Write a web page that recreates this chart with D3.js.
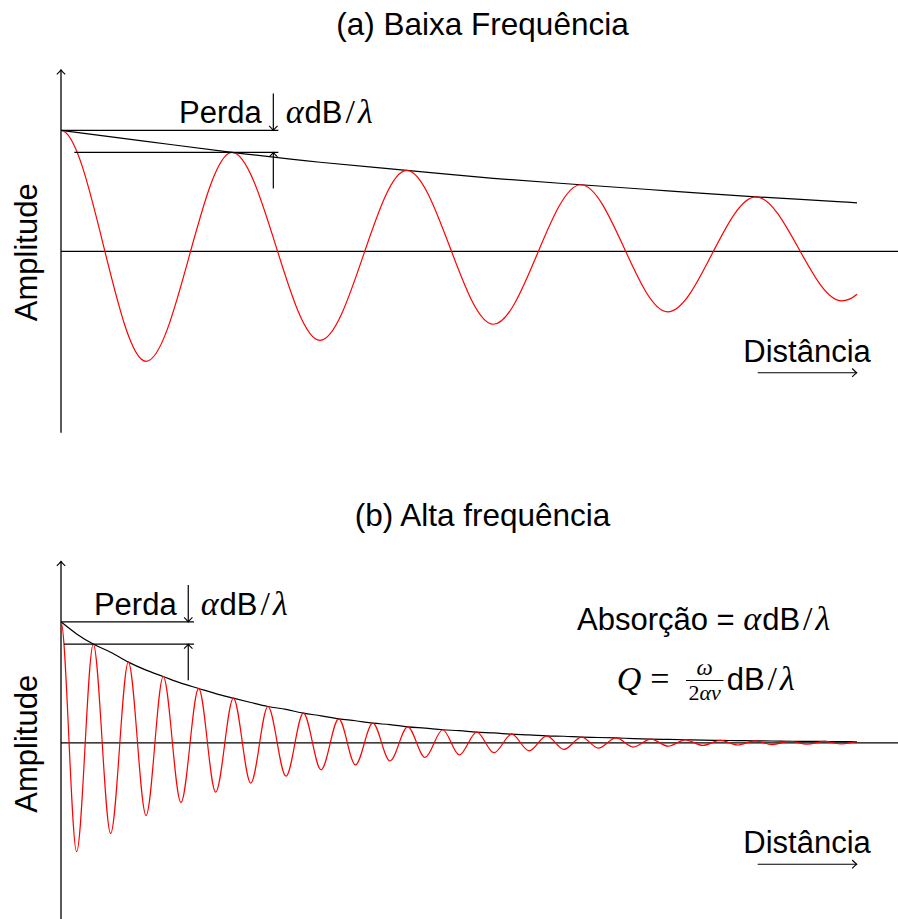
<!DOCTYPE html>
<html>
<head>
<meta charset="utf-8">
<script src="https://cdn.jsdelivr.net/npm/d3@7"></script>
<style>
  body { margin: 0; background: #fff; }
  svg { display: block; }
  text { font-family: "Liberation Sans", Arial, Helvetica, sans-serif; fill: #000; }
  .m  { font-family: "Liberation Serif", "Times New Roman", serif; font-style: normal; }
  .mi { font-family: "Liberation Serif", "Times New Roman", serif; font-style: italic; }
</style>
</head>
<body>
<svg id="chart"></svg>
<script>
// ---- data -------------------------------------------------------------
// Distance is measured in wavelengths of the low-frequency wave; amplitude
// is relative to the starting amplitude. Each list holds the successive
// crests/troughs of the wave, followed by the value where the trace stops.
const distanceMax = 4.585;

const lowDistance  = [0, 0.490, 0.985, 1.492, 1.991, 2.490, 2.994, 3.495, 4.003, 4.497, 4.585];
const lowAmplitude = [1.000, -0.909, 0.818, -0.736, 0.669, -0.603, 0.550, -0.500, 0.450, -0.409, -0.355];
const lowEnvelope  = [1.000, 0.909, 0.818, 0.736, 0.669, 0.603, 0.550, 0.500, 0.450, 0.409, 0.401];

const highDistance = [
  0, 0.090, 0.186, 0.286, 0.388, 0.490, 0.589, 0.691, 0.793, 0.891,
  0.993, 1.093, 1.192, 1.296, 1.396, 1.498, 1.600, 1.696, 1.796, 1.895,
  1.997, 2.097, 2.199, 2.294, 2.395, 2.494, 2.596, 2.696, 2.798, 2.897,
  2.999, 3.095, 3.197, 3.297, 3.397, 3.497, 3.597, 3.697, 3.797, 3.897,
  3.997, 4.097, 4.197, 4.297, 4.397, 4.497, 4.585
];
const highAmplitude = [
  1.000, -0.900, 0.816, -0.749, 0.667, -0.601, 0.548, -0.493, 0.449, -0.407,
  0.369, -0.333, 0.300, -0.276, 0.245, -0.223, 0.198, -0.182, 0.162, -0.150,
  0.132, -0.121, 0.108, -0.100, 0.088, -0.082, 0.071, -0.066, 0.058, -0.054,
  0.047, -0.044, 0.040, -0.035, 0.031, -0.028, 0.025, -0.022, 0.020, -0.018,
  0.016, -0.015, 0.013, -0.012, 0.011, -0.010, 0.009
];
const highEnvelope = [
  1.000, 0.900, 0.816, 0.749, 0.667, 0.601, 0.548, 0.493, 0.449, 0.407,
  0.369, 0.333, 0.300, 0.276, 0.245, 0.223, 0.198, 0.182, 0.162, 0.150,
  0.132, 0.121, 0.108, 0.100, 0.088, 0.082, 0.071, 0.066, 0.058, 0.054,
  0.047, 0.044, 0.040, 0.035, 0.031, 0.028, 0.025, 0.022, 0.020, 0.018,
  0.016, 0.015, 0.013, 0.012, 0.011, 0.010, 0.009
];

const titles = ["(a) Baixa Frequência", "(b) Alta frequência"];
const yLabel = "Amplitude";
const xLabel = "Distância";
const lossLabel = "Perda";

// ---- layout -----------------------------------------------------------
const W = 898, H = 919;
const svg = d3.select("#chart").attr("width", W).attr("height", H);

const x = d3.scaleLinear().domain([0, distanceMax]).range([61, 857]);

// Cubic segments with flat tangents at every crest and trough; the last
// segment leaves its end point with `endRatio` times the chord slope.
function crestCurve(endRatio) {
  return function (context) {
    let pts;
    return {
      areaStart() {}, areaEnd() {},
      lineStart() { pts = []; },
      point(px, py) { pts.push([+px, +py]); },
      lineEnd() {
        if (!pts.length) return;
        context.moveTo(pts[0][0], pts[0][1]);
        for (let i = 1; i < pts.length; i++) {
          const [x0, y0] = pts[i - 1], [x1, y1] = pts[i];
          const h = (x1 - x0) / 3;
          const m = i === pts.length - 1 ? endRatio * (y1 - y0) / (x1 - x0) : 0;
          context.bezierCurveTo(x0 + h, y0, x1 - h, y1 - m * h, x1, y1);
        }
      }
    };
  };
}

// small open arrow tip, pointing along +x before rotation
function arrowTip(g, px, py, angle) {
  g.append("path")
    .attr("d", "M-4.5,-4.2 Q-1.6,-1.2 0,0 Q-1.6,1.2 -4.5,4.2")
    .attr("transform", `translate(${px},${py}) rotate(${angle})`)
    .attr("fill", "none").attr("stroke", "#000").attr("stroke-width", 1.1);
}

// α dB / λ
function mathUnit(t, withAlpha = true) {
  if (withAlpha) t.append("tspan").attr("class", "mi").attr("font-size", 34).text("α");
  t.append("tspan").attr("dx", withAlpha ? 1 : 0).text("dB");
  t.append("tspan").attr("class", "m").attr("font-size", 34).attr("dx", 3).text("/");
  t.append("tspan").attr("class", "mi").attr("font-size", 34).attr("dx", 3).text("λ");
}

function drawPanel(cfg) {
  const g = svg.append("g");
  const zero = cfg.zero;
  const y = d3.scaleLinear().domain([-1.5, 1.5]).range([zero + 181.5, zero - 181.5]);

  // title
  g.append("text").attr("x", 482.5).attr("y", zero - 216.8)
    .attr("text-anchor", "middle").attr("font-size", 31.5).text(cfg.title);

  // vertical axis with arrow
  g.append("line").attr("x1", x(0)).attr("x2", x(0))
    .attr("y1", y(-1.5)).attr("y2", y(1.5))
    .attr("stroke", "#000").attr("stroke-width", 1.3);
  arrowTip(g, x(0), y(1.5), -90);

  // zero line
  g.append("line").attr("x1", x(0)).attr("x2", W)
    .attr("y1", y(0)).attr("y2", y(0))
    .attr("stroke", "#000").attr("stroke-width", 1.2);

  // y label
  g.append("text")
    .attr("transform", `translate(36.7,${zero + 1}) rotate(-90)`)
    .attr("text-anchor", "middle").attr("font-size", 31).text(yLabel);

  // envelope
  const env = cfg.distance.map((d, i) => [d, cfg.envelope[i]]);
  g.append("path")
    .attr("d", d3.line().x(d => x(d[0])).y(d => y(d[1])).curve(d3.curveMonotoneX)(env))
    .attr("fill", "none").attr("stroke", "#000").attr("stroke-width", 1.2);

  // wave
  const wave = cfg.distance.map((d, i) => [d, cfg.amplitude[i]]);
  g.append("path")
    .attr("d", d3.line().x(d => x(d[0])).y(d => y(d[1])).curve(crestCurve(cfg.endRatio))(wave))
    .attr("fill", "none").attr("stroke", "#ff0000").attr("stroke-width", 1.2);

  // loss per wavelength marker
  const top = cfg.amplitude[0], next = cfg.amplitude[2];
  const ax = x(cfg.arrowAt);
  g.append("line").attr("x1", x(0)).attr("x2", x(cfg.refEnd))
    .attr("y1", y(top)).attr("y2", y(top)).attr("stroke", "#000").attr("stroke-width", 1.2);
  g.append("line").attr("x1", x(cfg.refStart)).attr("x2", x(cfg.refEnd))
    .attr("y1", y(next)).attr("y2", y(next)).attr("stroke", "#000").attr("stroke-width", 1.2);
  g.append("line").attr("x1", ax).attr("x2", ax)
    .attr("y1", y(top) - 36.7).attr("y2", y(top)).attr("stroke", "#000").attr("stroke-width", 1.2);
  arrowTip(g, ax, y(top), 90);
  g.append("line").attr("x1", ax).attr("x2", ax)
    .attr("y1", y(next) + 36.3).attr("y2", y(next)).attr("stroke", "#000").attr("stroke-width", 1.2);
  arrowTip(g, ax, y(next), -90);

  g.append("text").attr("x", ax - 11.6).attr("y", y(top) - 7.3)
    .attr("text-anchor", "end").attr("font-size", 31).text(lossLabel);
  const u = g.append("text").attr("x", ax + 12.4).attr("y", y(top) - 7.3).attr("font-size", 31);
  mathUnit(u);

  // distance label with arrow
  g.append("text").attr("x", 743.3).attr("y", zero + 110.4).attr("font-size", 31).text(xLabel);
  g.append("line").attr("x1", 757.7).attr("x2", 856.7)
    .attr("y1", zero + 121.4).attr("y2", zero + 121.4).attr("stroke", "#000").attr("stroke-width", 1.1);
  arrowTip(g, 856.7, zero + 121.4, 0);

  return { g, y };
}

drawPanel({
  title: titles[0], zero: 251.3,
  distance: lowDistance, amplitude: lowAmplitude, envelope: lowEnvelope,
  endRatio: 2, arrowAt: 1.223, refStart: 0.077, refEnd: 1.252
});

const b = drawPanel({
  title: titles[1], zero: 742.8,
  distance: highDistance, amplitude: highAmplitude, envelope: highEnvelope,
  endRatio: 0, arrowAt: 0.733, refStart: 0.017, refEnd: 0.766
});

// absorption and quality factor
const abs = b.g.append("text").attr("x", 577).attr("y", 630).attr("font-size", 31);
abs.append("tspan").text("Absorção = ");
mathUnit(abs);

const q = b.g.append("text").attr("x", 616.7).attr("y", 690).attr("font-size", 34);
q.append("tspan").attr("class", "mi").text("Q");
q.append("tspan").attr("class", "m").attr("dx", 9).text("=");

b.g.append("line").attr("x1", 686).attr("x2", 723.5).attr("y1", 680.5).attr("y2", 680.5)
  .attr("stroke", "#000").attr("stroke-width", 1.1);
b.g.append("text").attr("x", 704.7).attr("y", 674.5).attr("text-anchor", "middle")
  .attr("font-size", 23).attr("class", "mi").text("ω");
const den = b.g.append("text").attr("x", 704.7).attr("y", 699.5).attr("text-anchor", "middle").attr("font-size", 22);
den.append("tspan").attr("class", "m").text("2");
den.append("tspan").attr("class", "mi").text("αv");

const qu = b.g.append("text").attr("x", 726.7).attr("y", 690).attr("font-size", 31);
mathUnit(qu, false);
</script>
</body>
</html>
